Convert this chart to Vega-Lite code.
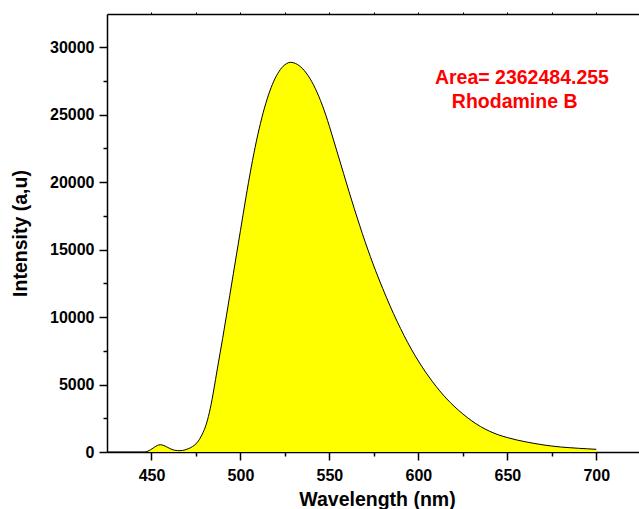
{
  "$schema": "https://vega.github.io/schema/vega-lite/v6.json",
  "autosize": "none",
  "padding": {"left": 107, "top": 14, "right": 0, "bottom": 57},
  "width": 532,
  "height": 438,
  "background": "white",
  "config": {"view": {"stroke": null}, "font": "Liberation Sans"},
  "datasets": {
    "spectrum": [
      {"wavelength": 425, "intensity": 0},
      {"wavelength": 440, "intensity": 0},
      {"wavelength": 446, "intensity": 0},
      {"wavelength": 448, "intensity": 60},
      {"wavelength": 451, "intensity": 300},
      {"wavelength": 454, "intensity": 520},
      {"wavelength": 455, "intensity": 540},
      {"wavelength": 457, "intensity": 480},
      {"wavelength": 460, "intensity": 280},
      {"wavelength": 463, "intensity": 130},
      {"wavelength": 466, "intensity": 100},
      {"wavelength": 469, "intensity": 160},
      {"wavelength": 471, "intensity": 260},
      {"wavelength": 473, "intensity": 400},
      {"wavelength": 475, "intensity": 600},
      {"wavelength": 477, "intensity": 950},
      {"wavelength": 479, "intensity": 1450},
      {"wavelength": 481, "intensity": 2150},
      {"wavelength": 483, "intensity": 3200},
      {"wavelength": 485, "intensity": 4600},
      {"wavelength": 487, "intensity": 6150},
      {"wavelength": 490, "intensity": 8420},
      {"wavelength": 492, "intensity": 10000},
      {"wavelength": 494, "intensity": 11600},
      {"wavelength": 496, "intensity": 13200},
      {"wavelength": 498, "intensity": 14800},
      {"wavelength": 500, "intensity": 16400},
      {"wavelength": 503, "intensity": 18800},
      {"wavelength": 506, "intensity": 21050},
      {"wavelength": 509, "intensity": 23050},
      {"wavelength": 512, "intensity": 24750},
      {"wavelength": 515, "intensity": 26150},
      {"wavelength": 518, "intensity": 27250},
      {"wavelength": 521, "intensity": 28050},
      {"wavelength": 524, "intensity": 28580},
      {"wavelength": 526, "intensity": 28780},
      {"wavelength": 528, "intensity": 28870},
      {"wavelength": 530, "intensity": 28830},
      {"wavelength": 532, "intensity": 28713},
      {"wavelength": 534, "intensity": 28517},
      {"wavelength": 536, "intensity": 28243},
      {"wavelength": 538, "intensity": 27890},
      {"wavelength": 540, "intensity": 27459},
      {"wavelength": 542, "intensity": 26950},
      {"wavelength": 544, "intensity": 26361},
      {"wavelength": 546, "intensity": 25695},
      {"wavelength": 548, "intensity": 24950},
      {"wavelength": 550, "intensity": 24127},
      {"wavelength": 552, "intensity": 23257},
      {"wavelength": 555, "intensity": 21937},
      {"wavelength": 558, "intensity": 20617},
      {"wavelength": 561, "intensity": 19300},
      {"wavelength": 564, "intensity": 18020},
      {"wavelength": 567, "intensity": 16790},
      {"wavelength": 570, "intensity": 15600},
      {"wavelength": 573, "intensity": 14480},
      {"wavelength": 576, "intensity": 13420},
      {"wavelength": 580, "intensity": 12100},
      {"wavelength": 584, "intensity": 10850},
      {"wavelength": 588, "intensity": 9690},
      {"wavelength": 592, "intensity": 8620},
      {"wavelength": 596, "intensity": 7630},
      {"wavelength": 600, "intensity": 6740},
      {"wavelength": 604, "intensity": 5930},
      {"wavelength": 608, "intensity": 5200},
      {"wavelength": 612, "intensity": 4530},
      {"wavelength": 616, "intensity": 3930},
      {"wavelength": 620, "intensity": 3400},
      {"wavelength": 625, "intensity": 2820},
      {"wavelength": 630, "intensity": 2310},
      {"wavelength": 635, "intensity": 1880},
      {"wavelength": 640, "intensity": 1540},
      {"wavelength": 645, "intensity": 1270},
      {"wavelength": 650, "intensity": 1070},
      {"wavelength": 655, "intensity": 900},
      {"wavelength": 660, "intensity": 760},
      {"wavelength": 665, "intensity": 640},
      {"wavelength": 670, "intensity": 530},
      {"wavelength": 675, "intensity": 440},
      {"wavelength": 680, "intensity": 370},
      {"wavelength": 685, "intensity": 320},
      {"wavelength": 690, "intensity": 275},
      {"wavelength": 695, "intensity": 235},
      {"wavelength": 700, "intensity": 200}
    ],
    "labels": [
      {"x": 609.3, "y": 27259, "label": "Area= 2362484.255"},
      {"x": 618.8, "y": 25481, "label": "Rhodamine B"}
    ]
  },
  "layer": [
    {
      "data": {"name": "spectrum"},
      "mark": {
        "type": "area",
        "color": "#ffff00",
        "opacity": 1,
        "fillOpacity": 1,
        "interpolate": "monotone",
        "line": {"color": "#000000", "strokeWidth": 1}
      },
      "encoding": {
        "x": {
          "field": "wavelength",
          "type": "quantitative",
          "scale": {"domain": [425, 724], "nice": false, "zero": false},
          "axis": {
            "orient": "bottom",
            "values": [450, 475, 500, 525, 550, 575, 600, 625, 650, 675, 700],
            "format": "d",
            "labelExpr": "datum.value % 50 === 0 ? datum.label : ''",
            "tickSize": {"condition": {"test": "datum.value % 50 === 0", "value": 8}, "value": 4},
            "tickWidth": 1.5,
            "tickColor": "#000000",
            "domainColor": "#000000",
            "domainWidth": 1.5,
            "grid": false,
            "labelFont": "Liberation Sans",
            "labelFontWeight": "bold",
            "labelFontSize": 16,
            "labelColor": "#000000",
            "labelPadding": 7,
            "labelFlush": false,
            "labelOverlap": false,
            "title": "Wavelength (nm)",
            "titleFont": "Liberation Sans",
            "titleFontWeight": "bold",
            "titleFontSize": 19.5,
            "titleColor": "#000000",
            "titleX": 270,
            "titleY": 53,
            "titleAlign": "center",
            "titleBaseline": "alphabetic"
          }
        },
        "y": {
          "field": "intensity",
          "type": "quantitative",
          "scale": {"domain": [0, 32450], "nice": false},
          "axis": {
            "orient": "left",
            "values": [0, 2500, 5000, 7500, 10000, 12500, 15000, 17500, 20000, 22500, 25000, 27500, 30000],
            "format": "d",
            "labelExpr": "datum.value % 5000 === 0 ? datum.label : ''",
            "tickSize": {"condition": {"test": "datum.value % 5000 === 0", "value": 8}, "value": 4},
            "tickWidth": 1.5,
            "tickColor": "#000000",
            "domainColor": "#000000",
            "domainWidth": 1.5,
            "grid": false,
            "labelFont": "Liberation Sans",
            "labelFontWeight": "bold",
            "labelFontSize": 16,
            "labelColor": "#000000",
            "labelPadding": 5,
            "labelFlush": false,
            "labelOverlap": false,
            "title": "Intensity (a,u)",
            "titleFont": "Liberation Sans",
            "titleFontWeight": "bold",
            "titleFontSize": 19.5,
            "titleColor": "#000000",
            "titleAngle": -90,
            "titleX": -81,
            "titleY": 219,
            "titleAlign": "center",
            "titleBaseline": "alphabetic"
          }
        }
      }
    },
    {
      "data": {"name": "labels"},
      "mark": {
        "type": "text",
        "align": "left",
        "baseline": "alphabetic",
        "font": "Liberation Sans",
        "fontWeight": "bold",
        "fontSize": 19.5,
        "color": "#ff0000"
      },
      "encoding": {
        "x": {
          "field": "x",
          "type": "quantitative",
          "axis": {
            "orient": "top",
            "values": [450, 475, 500, 525, 550, 575, 600, 625, 650, 675, 700],
            "labels": false,
            "title": null,
            "tickSize": 2,
            "tickWidth": 1,
            "tickColor": "#000000",
            "domainColor": "#000000",
            "domainWidth": 1.5,
            "grid": false
          }
        },
        "y": {"field": "y", "type": "quantitative", "axis": null},
        "text": {"field": "label"}
      }
    }
  ],
  "resolve": {"axis": {"x": "independent", "y": "independent"}}
}
